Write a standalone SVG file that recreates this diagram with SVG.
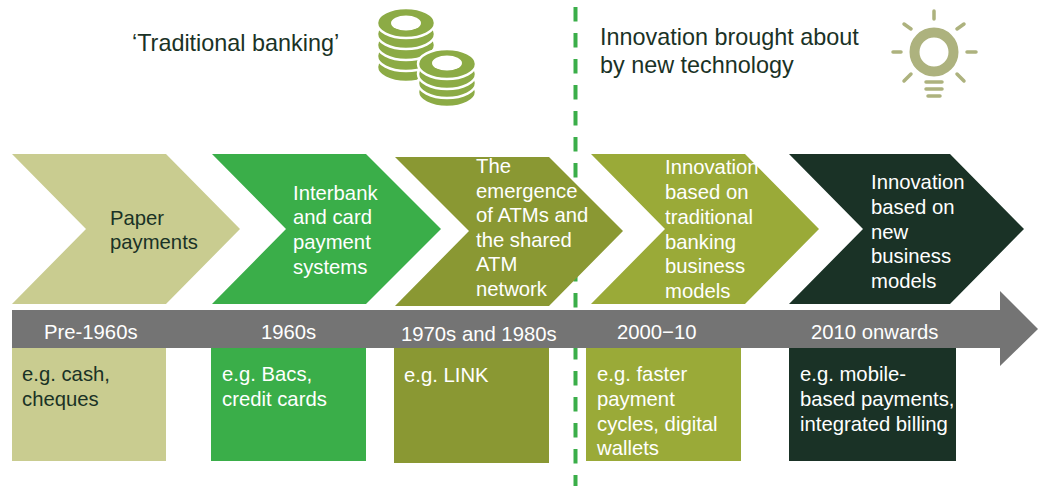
<svg xmlns="http://www.w3.org/2000/svg" width="1038" height="486" viewBox="0 0 1038 486">
<style>
text{font-family:"Liberation Sans",Arial,sans-serif;font-size:20.3px}
.w{fill:#fff}.d{fill:#1a3226}.h{font-size:23.4px;fill:#1a3226}
.c1{fill:#c9cc90}.c2{fill:#3aae49}.c3{fill:#8a9833}.c4{fill:#9aaa38}.c5{fill:#1a3226}
.coin{fill:#8cab45;stroke:#fff;stroke-width:2.500}
.ray{stroke:#adb27e;stroke-width:3.500;stroke-linecap:round;fill:none}
</style>
<g id="connectors">
<line x1="575.500" y1="7" x2="575.500" y2="486" stroke="#3aae49" stroke-width="4" stroke-dasharray="14.500 11.500"/>
</g>
<g id="title-traditional"><text class="h" x="132" y="51">‘Traditional banking’</text></g>
<g id="icon-coins">
<ellipse class="coin" cx="406" cy="67" rx="29" ry="15"/>
<ellipse class="coin" cx="406" cy="56" rx="29" ry="15"/>
<ellipse class="coin" cx="406" cy="45" rx="29" ry="15"/>
<ellipse class="coin" cx="406" cy="34" rx="29" ry="15"/>
<ellipse class="coin" cx="406" cy="23" rx="29" ry="15"/>
<ellipse cx="406" cy="23" rx="15" ry="7.500" fill="#fff"/>
<ellipse class="coin" cx="447" cy="92" rx="29" ry="15"/>
<ellipse class="coin" cx="447" cy="83" rx="29" ry="15"/>
<ellipse class="coin" cx="447" cy="74" rx="29" ry="15"/>
<ellipse class="coin" cx="447" cy="64" rx="29" ry="15"/>
<ellipse cx="447" cy="63" rx="15" ry="7.500" fill="#fff"/>
</g>
<g id="title-innovation"><text class="h" x="600" y="45">Innovation brought about</text><text class="h" x="600" y="73">by new technology</text></g>
<g id="icon-bulb">
<circle cx="934" cy="52" r="19.500" fill="none" stroke="#adb27e" stroke-width="10"/>
<path class="ray" d="M934 11v8M904 24l7 5M964 24l-7 5M893 52h8M967 52h9M904 81l7-7M964 81l-7-7M926 82h16M926 89h16M928 96h12"/>
</g>
<g id="timeline">
<path d="M12 310H1000V291L1038 329L1000 366V348H12z" fill="#747474"/>
</g>
<g id="chevron-1"><path class="c1" d="M12 154H166L240 229L166 304H12L86 229z"/><text class="d" x="110" y="225">Paper</text><text class="d" x="110" y="249">payments</text></g>
<g id="chevron-2"><path class="c2" d="M212 154H366L441 229L366 304H212L286 229z"/><text class="w" x="293" y="200">Interbank</text><text class="w" x="293" y="224">and card</text><text class="w" x="293" y="249">payment</text><text class="w" x="293" y="274">systems</text></g>
<g id="chevron-3"><path class="c3" d="M395 157H549L623 231L549 306H395L469 231z"/><text class="w" x="476" y="173">The</text><text class="w" x="476" y="198">emergence</text><text class="w" x="476" y="222">of ATMs and</text><text class="w" x="476" y="247">the shared</text><text class="w" x="476" y="271">ATM</text><text class="w" x="476" y="296">network</text></g>
<g id="chevron-4"><path class="c4" d="M591 154H745L819 229L745 304H591L665 229z"/><text class="w" x="665" y="174">Innovation</text><text class="w" x="665" y="199">based on</text><text class="w" x="665" y="224">traditional</text><text class="w" x="665" y="249">banking</text><text class="w" x="665" y="273">business</text><text class="w" x="665" y="298">models</text></g>
<g id="chevron-5"><path class="c5" d="M789 154H950L1024 229L950 304H789L863 229z"/><text class="w" x="871" y="189">Innovation</text><text class="w" x="871" y="214">based on</text><text class="w" x="871" y="239">new</text><text class="w" x="871" y="263">business</text><text class="w" x="871" y="288">models</text></g>
<g id="era-1"><rect class="c1" x="12" y="348" width="154" height="113"/><text class="w" x="44" y="339">Pre-1960s</text><text class="d" x="22" y="381">e.g. cash,</text><text class="d" x="22" y="406">cheques</text></g>
<g id="era-2"><rect class="c2" x="211" y="348" width="155" height="113"/><text class="w" x="261" y="339">1960s</text><text class="w" x="222" y="381">e.g. Bacs,</text><text class="w" x="222" y="406">credit cards</text></g>
<g id="era-3"><rect class="c3" x="394" y="348" width="155" height="115"/><text class="w" x="401" y="341">1970s and 1980s</text><text class="w" x="404" y="382">e.g. LINK</text></g>
<g id="era-4"><rect class="c4" x="586" y="348" width="155" height="113"/><text class="w" x="617" y="339">2000−10</text><text class="w" x="597" y="381">e.g. faster</text><text class="w" x="597" y="406">payment</text><text class="w" x="597" y="431">cycles, digital</text><text class="w" x="597" y="455">wallets</text></g>
<g id="era-5"><rect class="c5" x="789" y="348" width="167" height="113"/><text class="w" x="811" y="339">2010 onwards</text><text class="w" x="800" y="381">e.g. mobile-</text><text class="w" x="800" y="406">based payments,</text><text class="w" x="800" y="431">integrated billing</text></g>
</svg>
